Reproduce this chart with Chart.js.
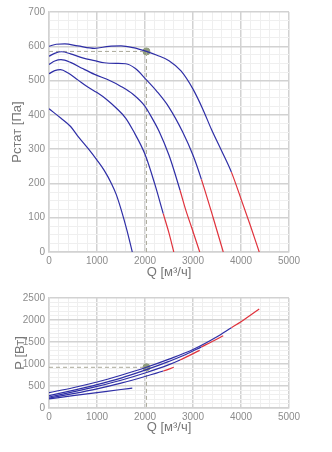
<!DOCTYPE html>
<html>
<head>
<meta charset="utf-8">
<script src="https://cdn.jsdelivr.net/npm/chart.js@4.4.1/dist/chart.umd.min.js"></script>
<style>
  body { margin: 0; background: #fff; }
  #top { position: absolute; left: 0; top: 0; width: 332px; height: 285px; }
  #bottom { position: absolute; left: 0; top: 285px; width: 332px; height: 167px; }
</style>
</head>
<body>
<div id="top"><canvas id="pressureChart"></canvas></div>
<div id="bottom"><canvas id="powerChart"></canvas></div>
<script>
// pressure curves, Q [m3/h] -> Pstat [Pa]
const pq1 = [0, 150, 330, 600, 950, 1250, 1500, 1750, 2030, 2250, 2500, 2750, 3000, 3200, 3383, 3600, 3800, 4000, 4200, 4380];
const pp1 = [600, 606, 607, 601, 594, 600, 601, 596, 585, 574, 558, 528, 475, 418, 358, 294, 233, 155, 75, 0];
const pq2 = [0, 130, 260, 450, 700, 950, 1150, 1400, 1600, 1800, 2030, 2250, 2500, 2785, 3000, 3175, 3420, 3630];
const pp2 = [571, 580, 584, 578, 566, 558, 552, 550, 549, 535, 502, 468, 422, 350, 282, 212, 100, 0];
const pq3 = [0, 120, 250, 450, 700, 950, 1264, 1500, 1750, 2000, 2100, 2300, 2500, 2600, 2730, 2850, 2970, 3140];
const pp3 = [547, 557, 561, 553, 535, 518, 500, 483, 460, 425, 402, 350, 282, 240, 180, 122, 72, 0];
const pq4 = [0, 120, 240, 400, 600, 800, 1000, 1200, 1400, 1600, 1750, 2000, 2200, 2380, 2500, 2600];
const pp4 = [520, 529, 532, 522, 502, 482, 465, 445, 420, 390, 355, 285, 200, 112, 55, 0];
const pq5 = [0, 250, 450, 600, 813, 1000, 1150, 1300, 1400, 1500, 1620, 1735];
const pp5 = [418, 390, 366, 338, 302, 268, 238, 200, 168, 125, 65, 0];

// power curves, Q [m3/h] -> P [W]
const nq1 = [0, 500, 1000, 1500, 2030, 2500, 3000, 3500, 3800, 4000, 4380];
const nn1 = [350, 460, 590, 745, 925, 1110, 1330, 1620, 1825, 1960, 2250];
const nq2 = [0, 500, 1000, 1500, 2000, 2500, 2850, 3175, 3400, 3630];
const nn2 = [280, 400, 530, 680, 860, 1060, 1215, 1390, 1510, 1640];
const nq3 = [0, 500, 1000, 1500, 2000, 2500, 2730, 3140];
const nn3 = [250, 365, 490, 630, 795, 985, 1090, 1310];
const nq4 = [0, 500, 1000, 1500, 2000, 2380, 2600];
const nn4 = [225, 325, 435, 565, 715, 840, 925];
const nq5 = [0, 500, 1000, 1500, 1735];
const nn5 = [205, 280, 350, 420, 450];

// Q from which each curve leaves the recommended range
const redFrom = [3800, 3175, 2730, 2380, null];

// operating point
const workQ = 2030;
const workP = 585;
const workN = 925;

const BLUE = '#2e2ea6';
const RED = '#e0323c';
const MARK = '#8f9c7c';
const DASH = '#aaa99a';

Chart.defaults.font.family = '"Liberation Sans", Arial, sans-serif';
Chart.defaults.font.size = 10;
Chart.defaults.color = '#8c8c8c';

function curve(qs, vals, red) {
  return {
    data: qs.map((q, i) => ({ x: q, y: vals[i] })),
    borderColor: BLUE,
    borderWidth: 1.2,
    pointRadius: 0,
    cubicInterpolationMode: 'monotone',
    segment: {
      borderColor: c => (red !== null && c.p0.parsed.x >= red) ? RED : BLUE
    }
  };
}

function guide(y) {
  return {
    data: [{ x: 0, y: y }, { x: workQ, y: y }, { x: workQ, y: 0 }],
    borderColor: DASH,
    borderWidth: 1,
    borderDash: [4, 3],
    pointRadius: 0,
    tension: 0
  };
}

function marker(y) {
  return {
    data: [{ x: workQ, y: y }],
    showLine: false,
    pointRadius: 3.5,
    pointBackgroundColor: MARK,
    pointBorderColor: MARK
  };
}

function gridOpts(major) {
  return {
    drawTicks: false,
    color: c => (c.tick && c.tick.value % major === 0) ? '#d2d2d2' : '#efefef',
    lineWidth: c => (c.tick && c.tick.value % major === 0) ? 1.5 : 1
  };
}

function makeChart(id, datasets, yMax, yStep, yMajor, yTitle, yTitlePad, padTop, padBottom, xHeight) {
  return new Chart(document.getElementById(id), {
    type: 'line',
    data: { datasets: datasets },
    options: {
      responsive: true,
      maintainAspectRatio: false,
      animation: false,
      layout: { padding: { left: 0, right: 43, top: padTop, bottom: padBottom } },
      plugins: { legend: { display: false }, tooltip: { enabled: false } },
      scales: {
        x: {
          type: 'linear',
          min: 0,
          max: 5000,
          afterFit: s => { s.height = xHeight; },
          border: { color: '#d2d2d2', width: 1.5 },
          grid: gridOpts(1000),
          ticks: {
            stepSize: 200,
            autoSkip: false,
            maxRotation: 0,
            padding: 3,
            callback: v => v % 1000 === 0 ? v : ''
          },
          title: {
            display: true,
            text: 'Q [м³/ч]',
            color: '#777',
            font: { size: 13 },
            padding: { top: 0, bottom: 5 }
          }
        },
        y: {
          type: 'linear',
          min: 0,
          max: yMax,
          afterFit: s => { s.width = 49; },
          border: { color: '#d2d2d2', width: 1.5 },
          grid: gridOpts(yMajor),
          ticks: {
            stepSize: yStep,
            autoSkip: false,
            padding: 4,
            callback: v => v % yMajor === 0 ? v : ''
          },
          title: {
            display: true,
            text: yTitle,
            color: '#777',
            font: { size: 13 },
            padding: { top: yTitlePad, bottom: 0 }
          }
        }
      }
    }
  });
}

const pressureSets = [
  curve(pq1, pp1, redFrom[0]),
  curve(pq2, pp2, redFrom[1]),
  curve(pq3, pp3, redFrom[2]),
  curve(pq4, pp4, redFrom[3]),
  curve(pq5, pp5, redFrom[4]),
  guide(workP),
  marker(workP)
];

const powerSets = [
  curve(nq1, nn1, redFrom[0]),
  curve(nq2, nn2, redFrom[1]),
  curve(nq3, nn3, redFrom[2]),
  curve(nq4, nn4, redFrom[3]),
  curve(nq5, nn5, redFrom[4]),
  guide(workN),
  marker(workN)
];

makeChart('pressureChart', pressureSets, 700, 25, 100, 'Pстат [Па]', 10, 12, 0, 33);
makeChart('powerChart', powerSets, 2500, 100, 500, 'P [Вт]', 13, 13, 12, 32);
</script>
</body>
</html>
